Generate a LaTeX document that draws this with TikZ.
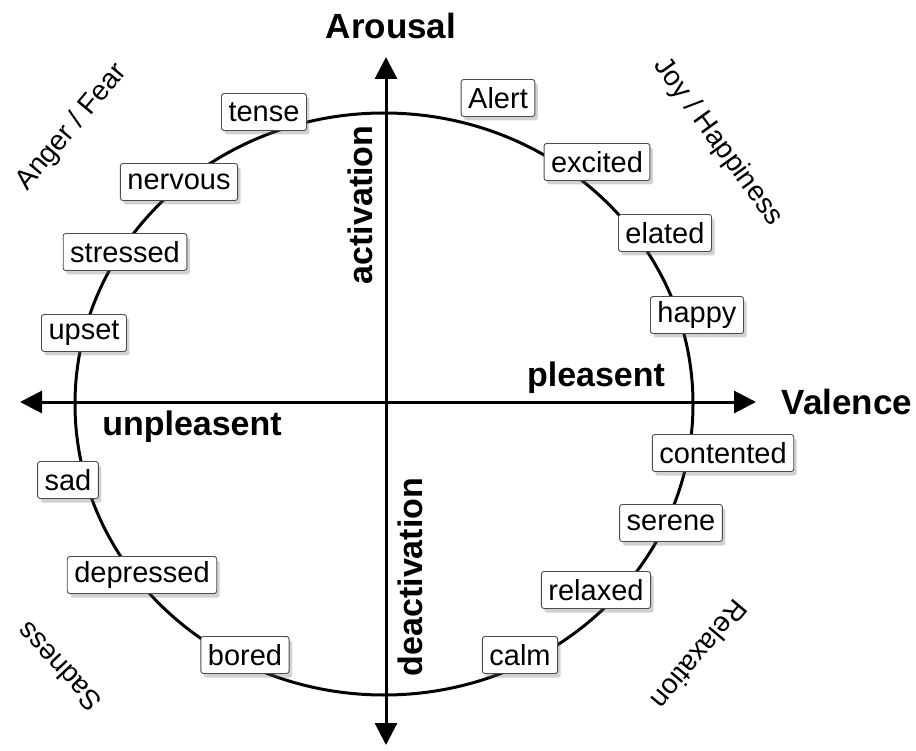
\documentclass[tikz,border=0pt]{standalone}
\usepackage{fontspec}
\setmainfont{Liberation Sans}
\usetikzlibrary{arrows.meta,shadows}
\begin{document}
\begin{tikzpicture}[x=1pt,y=-1pt,
  emo/.style={draw=gray!60!black, line width=0.9pt, fill=white, rounded corners=2.5pt,
    inner xsep=7pt, inner ysep=0pt, minimum height=37pt,
    font=\fontsize{29}{31}\selectfont,
    drop shadow={shadow xshift=3pt, shadow yshift=-4pt, opacity=0.3, fill=black!60}},
  axislbl/.style={font=\fontsize{35}{37}\selectfont\bfseries},
  sublbl/.style={font=\fontsize{34}{36}\selectfont\bfseries},
  catlbl/.style={font=\fontsize{28}{30}\selectfont},
  axis/.style={line width=3pt, -{Triangle[length=22pt,width=22pt]}}
]
\useasboundingbox (0,0) rectangle (916,751);
% circle
\coordinate (c) at (384,404);
\draw[line width=3pt] (c) ellipse [x radius=309, y radius=291];
% axes
\coordinate (vtop) at (386,57);
\coordinate (vbot) at (386,745);
\coordinate (hl) at (20,402);
\coordinate (hr) at (756,402);
\coordinate (o) at (386,402);
\draw[axis] (o) -- (vtop);
\draw[axis] (o) -- (vbot);
\draw[axis] (o) -- (hl);
\draw[axis] (o) -- (hr);
% axis labels
\node[axislbl] (arousal) at (391,26) {Arousal};
\node[axislbl] (valence) at (847,402) {Valence};
\node[sublbl, rotate=90] (act) at (360,205) {activation};
\node[sublbl, rotate=90] (deact) at (410,577) {deactivation};
\node[sublbl] (pleas) at (596,378) {pleasent};
\node[sublbl] (unpleas) at (192,427) {unpleasent};
% category labels
\node[catlbl, rotate=50] (anger) at (72,127) {Anger / Fear};
\node[catlbl, rotate=-54] (joy) at (718,142) {Joy / Happiness};
\node[catlbl, rotate=133] (sad) at (59,667) {Sadness};
\node[catlbl, rotate=230] (relax) at (700,655) {Relaxation};
% emotion boxes
\node[emo] (tense) at (264,112) {tense};
\node[emo] (nervous) at (179,182) {nervous};
\node[emo] (stressed) at (125,252) {stressed};
\node[emo] (upset) at (84,333) {upset};
\node[emo] (alert) at (498,98) {Alert};
\node[emo] (excited) at (597,162) {excited};
\node[emo] (elated) at (665,233) {elated};
\node[emo] (happy) at (697,315) {happy};
\node[emo] (contented) at (723,453) {contented};
\node[emo] (serene) at (671,523) {serene};
\node[emo] (relaxed) at (596,590) {relaxed};
\node[emo] (calm) at (520,655) {calm};
\node[emo] (sadb) at (68,480) {sad};
\node[emo] (depressed) at (142,575) {depressed};
\node[emo] (bored) at (245,655) {bored};
\end{tikzpicture}
\end{document}
